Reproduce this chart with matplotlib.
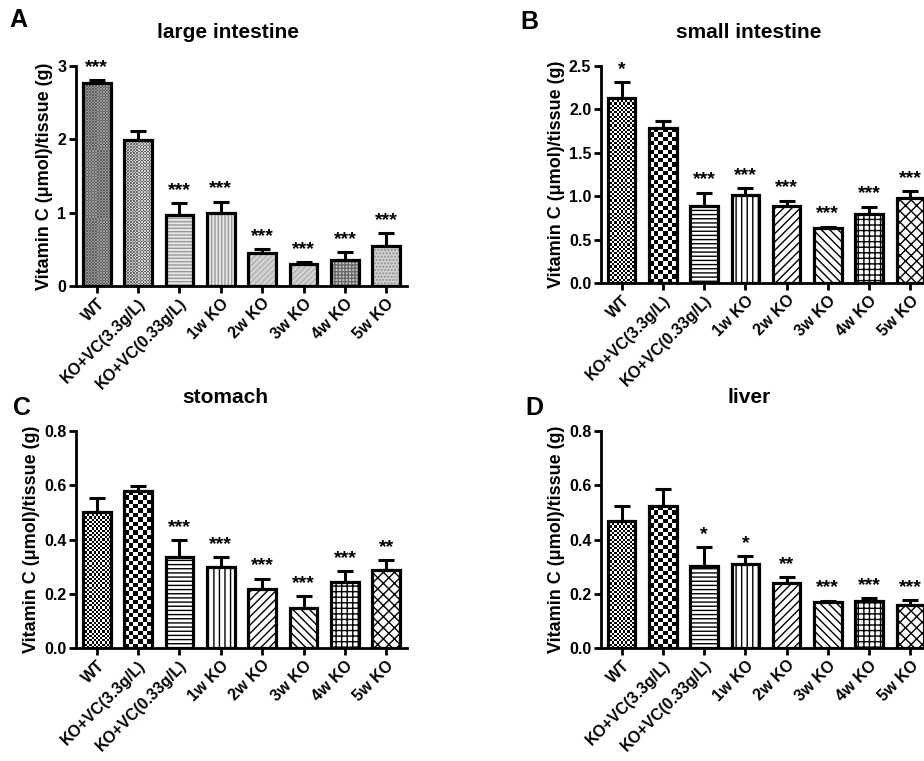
import numpy as np
import matplotlib
matplotlib.use('Agg')
import matplotlib.pyplot as plt

plt.rcParams['font.family'] = ['Liberation Sans', 'DejaVu Sans']
plt.rcParams['font.weight'] = 'bold'
plt.rcParams['hatch.linewidth'] = 1.0

categories = ['WT', 'KO+VC(3.3g/L)', 'KO+VC(0.33g/L)', '1w KO', '2w KO', '3w KO', '4w KO', '5w KO']

large_mean = [2.77, 1.99, 0.97, 1.00, 0.446, 0.30, 0.36, 0.54]
large_err = [0.04, 0.12, 0.16, 0.15, 0.06, 0.03, 0.10, 0.18]
large_sig = ['***', '', '***', '***', '***', '***', '***', '***']

small_mean = [2.13, 1.78, 0.89, 1.01, 0.89, 0.63, 0.79, 0.98]
small_err = [0.18, 0.09, 0.15, 0.08, 0.06, 0.02, 0.09, 0.08]
small_sig = ['*', '', '***', '***', '***', '***', '***', '***']

stomach_mean = [0.50, 0.577, 0.337, 0.30, 0.217, 0.148, 0.245, 0.288]
stomach_err = [0.053, 0.022, 0.060, 0.035, 0.039, 0.042, 0.038, 0.036]
stomach_sig = ['', '', '***', '***', '***', '***', '***', '**']

liver_mean = [0.468, 0.523, 0.304, 0.31, 0.240, 0.170, 0.172, 0.158]
liver_err = [0.055, 0.063, 0.068, 0.028, 0.020, 0.005, 0.011, 0.018]
liver_sig = ['', '', '*', '*', '**', '***', '***', '***']

W, H = 924, 761
fig = plt.figure(figsize=(W / 100, H / 100), dpi=100)

# styles
gray_styles = [
    dict(kind='checker', c1='#5e5e5e', c2='#9a9a9a', cell=1.5),
    dict(kind='checker', c1='#6a6a6a', c2='#cccccc', cell=1.5),
    dict(kind='hatch', face='#e8e8e8', hc='#9a9a9a', hatch='-----'),
    dict(kind='hatch', face='#e8e8e8', hc='#9a9a9a', hatch='|||||'),
    dict(kind='hatch', face='#d4d4d4', hc='#b0b0b0', hatch='//////'),
    dict(kind='hatch', face='#d4d4d4', hc='#b0b0b0', hatch='//////'),
    dict(kind='hatch', face='#c8c8c8', hc='#6a6a6a', hatch='+++++'),
    dict(kind='hatch', face='#d0d0d0', hc='#909090', hatch='.....'),
]
bw_styles = [
    dict(kind='checker', c1='black', c2='white', cell=2.2),
    dict(kind='checker', c1='black', c2='white', cell=4.3),
    dict(kind='hatch', face='white', hc='black', hatch='----'),
    dict(kind='hatch', face='white', hc='black', hatch='|||'),
    dict(kind='hatch', face='white', hc='black', hatch='////'),
    dict(kind='hatch', face='white', hc='black', hatch='\\\\\\\\'),
    dict(kind='hatch', face='white', hc='black', hatch='+++'),
    dict(kind='hatch', face='white', hc='black', hatch='xxx'),
]


def px_rect(left, right, top, bottom):
    return [left / W, 1 - bottom / H, (right - left) / W, (bottom - top) / H]


def draw_panel(rect, xlim, means, errs, sig, ylim, yticks, yfmt, styles, title, tpos, letter, lpos):
    ax = fig.add_axes(rect)
    x = np.arange(len(categories))
    ax.set_xlim(*xlim)
    ax.set_ylim(*ylim)
    width = 0.67
    ax.errorbar(x, means, yerr=[np.zeros(len(means)), errs], fmt='none', ecolor='black',
                elinewidth=2.2, capsize=6, capthick=2.2, zorder=1)
    fig.canvas.draw()
    pxx = ax.transData.transform((1, 0))[0] - ax.transData.transform((0, 0))[0]
    pxy = ax.transData.transform((0, 1))[1] - ax.transData.transform((0, 0))[1]
    for i, (m, st) in enumerate(zip(means, styles)):
        if st['kind'] == 'hatch':
            ax.bar(x[i], m, width, color=st['face'], edgecolor=st['hc'], hatch=st['hatch'],
                   linewidth=0, zorder=2)
        else:
            base = ax.bar(x[i], m, width, color=st['c2'], linewidth=0, zorder=2)[0]
            nc = max(1, int(round(width * pxx / st['cell'])))
            nr = max(1, int(round(m * pxy / st['cell'])))
            grid = (np.add.outer(np.arange(nr), np.arange(nc)) % 2).astype(float)
            cmap = matplotlib.colors.ListedColormap([st['c1'], st['c2']])
            im = ax.imshow(grid, cmap=cmap, extent=(x[i] - width / 2, x[i] + width / 2, 0, m),
                           aspect='auto', interpolation='nearest', zorder=2.5, origin='lower')
            im.set_clip_path(base)
        ax.bar(x[i], m, width, fill=False, edgecolor='black', linewidth=2.3, zorder=3)
    ax.set_xlim(*xlim)
    ax.set_ylim(*ylim)
    for i, s in enumerate(sig):
        if s:
            ax.annotate(s, (x[i], means[i] + errs[i]), xytext=(0, 3), textcoords='offset points',
                        ha='center', va='bottom', fontsize=14, fontweight='bold')
    ax.set_yticks(yticks)
    ax.set_yticklabels([yfmt.format(v) for v in yticks])
    ax.set_xticks(x)
    ax.set_xticklabels(categories, rotation=45, ha='right', rotation_mode='anchor')
    ax.tick_params(direction='out', length=5, width=2, labelsize=11.5, pad=2)
    for sp in ['top', 'right']:
        ax.spines[sp].set_visible(False)
    for sp in ['left', 'bottom']:
        ax.spines[sp].set_linewidth(2)
    ax.spines['bottom'].set_zorder(4)
    ax.set_ylabel('Vitamin C (\u03bcmol)/tissue (g)', fontsize=13, fontweight='bold', labelpad=3)
    fig.text(tpos[0] / W, 1 - tpos[1] / H, title, fontsize=15, fontweight='bold',
             ha='center', va='center')
    fig.text(lpos[0] / W, 1 - lpos[1] / H, letter, fontsize=18, fontweight='bold',
             ha='center', va='center')
    return ax


draw_panel(px_rect(76, 407, 66, 286), (-0.5, 7.5), large_mean, large_err, large_sig,
           (0, 3), [0, 1, 2, 3], '{:g}', gray_styles, 'large intestine', (228, 33), 'A', (18, 20))
draw_panel(px_rect(601, 931, 66, 283), (-0.5, 7.5), small_mean, small_err, small_sig,
           (0, 2.5), [0.0, 0.5, 1.0, 1.5, 2.0, 2.5], '{:.1f}', bw_styles, 'small intestine', (749, 33), 'B', (529, 22))
draw_panel(px_rect(76, 407, 431, 648), (-0.5, 7.5), stomach_mean, stomach_err, stomach_sig,
           (0, 0.8), [0.0, 0.2, 0.4, 0.6, 0.8], '{:.1f}', bw_styles, 'stomach', (225, 397), 'C', (22, 408))
draw_panel(px_rect(601, 931, 431, 648), (-0.5, 7.5), liver_mean, liver_err, liver_sig,
           (0, 0.8), [0.0, 0.2, 0.4, 0.6, 0.8], '{:.1f}', bw_styles, 'liver', (749, 397), 'D', (534, 408))

fig.savefig('out.png', dpi=100)
